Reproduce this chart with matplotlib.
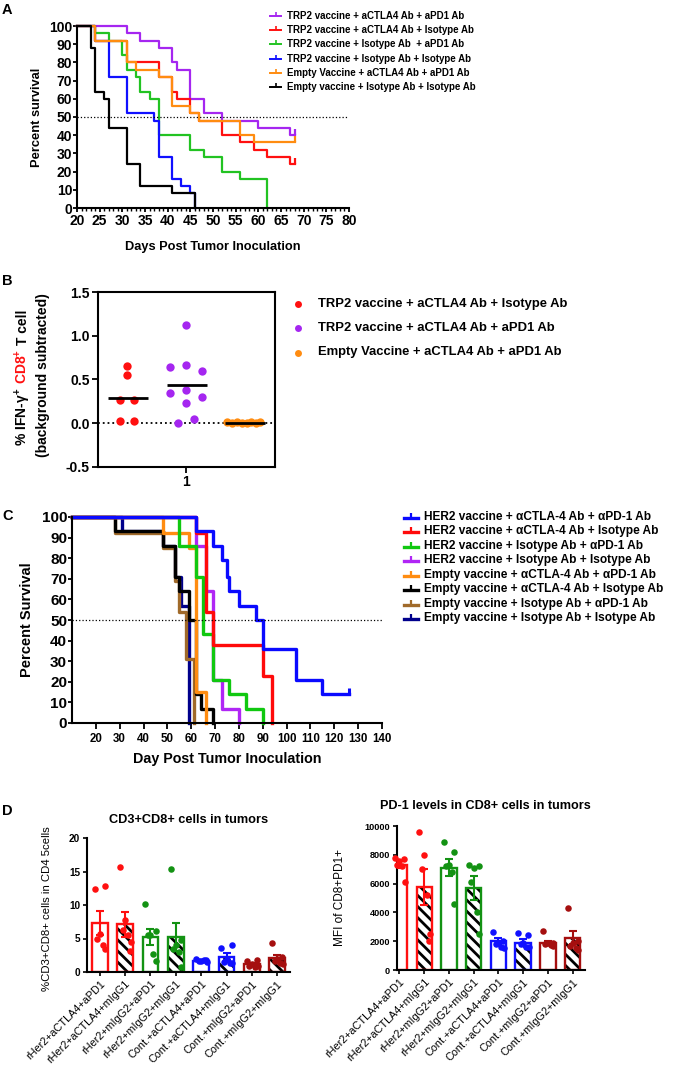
import numpy as np
import matplotlib
matplotlib.use('Agg')
import matplotlib.pyplot as plt
from matplotlib.lines import Line2D

plt.rcParams['font.family'] = ['Liberation Sans', 'DejaVu Sans']
plt.rcParams['font.weight'] = 'bold'
plt.rcParams['axes.labelweight'] = 'bold'
plt.rcParams['axes.titleweight'] = 'bold'
plt.rcParams['mathtext.default'] = 'regular'
plt.rcParams['hatch.linewidth'] = 2.0
plt.rcParams['axes.linewidth'] = 1.5

W, H = 685, 1078
fig = plt.figure(figsize=(W / 100, H / 100), dpi=100)


def axes_px(l, t, r, b):
    return fig.add_axes([l / W, 1 - b / H, (r - l) / W, (b - t) / H])


def fx(x):
    return x / W


def fy(y):
    return 1 - y / H


# ---------------- panel A data ----------------
a_labels = ['TRP2 vaccine + aCTLA4 Ab + aPD1 Ab',
            'TRP2 vaccine + aCTLA4 Ab + Isotype Ab',
            'TRP2 vaccine + Isotype Ab  + aPD1 Ab',
            'TRP2 vaccine + Isotype Ab + Isotype Ab',
            'Empty Vaccine + aCTLA4 Ab + aPD1 Ab',
            'Empty vaccine + Isotype Ab + Isotype Ab']
a_colors = ['#A526F0', '#FF1010', '#22C322', '#1010FF', '#FF8C10', '#000000']
a_days = [[20, 31, 34, 38, 41, 42, 45, 48, 52, 60, 67, 68],
          [20, 24, 31, 38, 41, 42, 45, 47, 52, 56, 59, 62, 67, 68],
          [20, 24, 27, 30, 31, 33, 34, 36, 38, 45, 48, 52, 56, 62],
          [20, 24, 27, 31, 37, 38, 41, 43, 45, 46],
          [20, 24, 31, 33, 38, 41, 45, 47, 56, 59, 68],
          [20, 23, 24, 26, 27, 31, 34, 41, 46]]
a_surv = [[100, 96, 92, 88, 80, 76, 60, 52, 48, 44, 40, 40],
          [100, 92, 80, 72, 64, 60, 52, 48, 40, 36, 32, 28, 24, 24],
          [100, 96, 92, 84, 76, 72, 64, 60, 40, 32, 28, 20, 16, 0],
          [100, 92, 72, 52, 48, 28, 16, 12, 8, 0],
          [100, 92, 80, 76, 72, 56, 52, 48, 40, 36, 36],
          [100, 88, 64, 60, 44, 24, 12, 8, 0]]
a_censored = [True, True, False, False, True, False]

# ---------------- panel B data ----------------
b_labels = ['TRP2 vaccine + aCTLA4 Ab + Isotype Ab',
            'TRP2 vaccine + aCTLA4 Ab + aPD1 Ab',
            'Empty Vaccine + aCTLA4 Ab + aPD1 Ab']
b_colors = ['#FF1010', '#A526F0', '#FF8C10']
b_centers = [0.166, 0.498, 0.826]
b_red = [0.65, 0.55, 0.26, 0.26, 0.02, 0.02]
b_red_dx = [0.0, 0.0, -0.04, 0.04, -0.04, 0.04]
b_purple = [1.12, 0.64, 0.67, 0.60, 0.35, 0.38, 0.30, 0.23, 0.05, 0.00]
b_purple_dx = [0.0, -0.09, 0.0, 0.09, -0.09, 0.0, 0.09, 0.0, 0.045, -0.045]
b_orange = [0.01, 0.0, 0.01, 0.0, 0.0, 0.01, 0.0, 0.01]
b_orange_dx = [-0.095, -0.068, -0.041, -0.014, 0.014, 0.041, 0.068, 0.09]

# ---------------- panel C data ----------------
c_labels = ['HER2 vaccine + \u03b1CTLA-4 Ab + \u03b1PD-1 Ab',
            'HER2 vaccine + \u03b1CTLA-4 Ab + Isotype Ab',
            'HER2 vaccine + Isotype Ab + \u03b1PD-1 Ab',
            'HER2 vaccine + Isotype Ab + Isotype Ab',
            'Empty vaccine + \u03b1CTLA-4 Ab + \u03b1PD-1 Ab',
            'Empty vaccine + \u03b1CTLA-4 Ab + Isotype Ab',
            'Empty vaccine + Isotype Ab + \u03b1PD-1 Ab',
            'Empty vaccine + Isotype Ab + Isotype Ab']
c_colors = ['#0A0AFF', '#FF0A0A', '#10C810', '#B026F5', '#FF8C10', '#000000', '#A06A2A', '#00008C']
c_days = [[10, 62, 69, 73, 75, 76, 80, 87, 90, 104, 115, 126],
          [10, 62, 66, 69, 90, 94],
          [10, 55, 62, 65, 69, 76, 83, 90],
          [10, 62, 66, 69, 73, 80],
          [10, 48, 59, 62, 66],
          [10, 28, 48, 53, 55, 59, 62, 64, 69],
          [10, 28, 48, 53, 55, 58, 61],
          [10, 31, 48, 53, 55.5, 59]]
c_surv = [[100, 93, 86, 79, 71, 64, 57, 50, 36, 21, 14, 14],
          [100, 92, 54, 38, 23, 0],
          [100, 86, 71, 43, 21, 14, 7, 0],
          [100, 86, 64, 21, 7, 0],
          [100, 92, 85, 15, 0],
          [100, 93, 86, 71, 64, 50, 14, 7, 0],
          [100, 92, 85, 69, 54, 31, 0],
          [100, 93, 86, 71, 57, 0]]
c_draw_order = [7, 6, 5, 4, 3, 2, 1, 0]

# ---------------- panel D data ----------------
d_groups = ['rHer2+aCTLA4+aPD1', 'rHer2+aCTLA4+mIgG1', 'rHer2+mIgG2+aPD1', 'rHer2+mIgG2+mIgG1',
            'Cont.+aCTLA4+aPD1', 'Cont.+aCTLA4+mIgG1', 'Cont.+mIgG2+aPD1', 'Cont.+mIgG2+mIgG1']
d_colors = ['#FF1010', '#FF1010', '#139213', '#139213', '#1010FF', '#1010FF', '#A50F0F', '#A50F0F']
d_hatched = [False, True, False, True, False, True, False, True]
d_dx = [-0.2, 0.2, 0.0, -0.1, 0.12, 0.22]

cd8_mean = [7.3, 7.1, 5.2, 5.2, 1.7, 2.3, 1.2, 2.1]
cd8_sem = [1.8, 1.9, 1.2, 2.1, 0.15, 0.5, 0.2, 0.5]
cd8_points = [[12.4, 12.9, 5.7, 5.0, 4.0, 3.4],
              [15.6, 3.2, 7.8, 6.3, 5.5, 4.5],
              [10.2, 6.1, 5.5, 5.5, 2.7, 1.7],
              [15.4, 4.8, 4.0, 3.5, 3.0, 0.8],
              [1.9, 1.8, 1.7, 1.6, 1.8, 1.5],
              [3.6, 4.1, 2.0, 1.5, 1.4, 1.3],
              [1.7, 1.8, 1.2, 0.9, 0.8, 0.9],
              [4.3, 2.2, 2.0, 1.6, 1.3, 1.2]]

pd1_mean = [7300, 5750, 7100, 5700, 2000, 1900, 1900, 2250]
pd1_sem = [250, 1250, 600, 850, 200, 250, 100, 450]
pd1_points = [[7800, 7700, 7600, 7300, 7200, 6100],
              [9600, 2000, 8000, 7000, 5200, 2500],
              [8900, 8200, 7300, 7200, 6800, 4600],
              [7300, 7200, 7100, 6100, 4000, 2500],
              [2650, 2000, 1900, 1800, 1600, 1500],
              [2550, 2400, 1900, 1800, 1600, 1600],
              [2700, 1900, 1850, 1800, 1750, 1700],
              [4300, 2000, 1900, 1700, 1500, 1400]]

# ================= Panel A =================
axA = axes_px(77, 26, 349, 208)
for d, s, c in zip(a_days, a_surv, a_colors):
    axA.step(d, s, where='post', color=c, lw=1.6, clip_on=False)
for d, s, c, cens in zip(a_days, a_surv, a_colors, a_censored):
    if cens:
        axA.plot(d[-1], s[-1], marker=2, color=c, ms=4, mew=1.6, clip_on=False)
axA.axhline(50, color='black', ls=':', lw=0.9)
axA.set_xlim(20, 80)
axA.set_ylim(0, 100)
axA.set_xticks(range(20, 81, 5))
axA.set_xticks(range(20, 81, 1), minor=True)
axA.set_yticks(range(0, 101, 10))
axA.spines[['top', 'right']].set_visible(False)
axA.tick_params(labelsize=10, width=1.3, length=3, pad=1)
axA.tick_params(axis='y', pad=0.5)
axA.tick_params(which='minor', length=2.2, width=1.0)
axA.set_ylabel('Percent survival', fontsize=9.3)
axA.yaxis.set_label_coords(-0.125, 0.5)
axA.set_xlabel('Days Post Tumor Inoculation', fontsize=9.2)
axA.xaxis.set_label_coords(0.5, -0.18)

for i, (lab, c) in enumerate(zip(a_labels, a_colors)):
    y = 15.7 + i * 14.3
    fig.add_artist(Line2D([fx(270), fx(281)], [fy(y), fy(y)], color=c, lw=1.4))
    fig.add_artist(Line2D([fx(275.5)], [fy(y)], marker=2, ms=3, mew=1.2, color=c))
    fig.text(fx(287), fy(y), lab, fontsize=7.0, va='center', ha='left')

# ================= Panel B =================
axB = axes_px(98, 292, 275, 467)
b_series = [(b_red, b_red_dx), (b_purple, b_purple_dx), (b_orange, b_orange_dx)]
for (vals, dx), cen, c in zip(b_series, b_centers, b_colors):
    xs = cen + np.array(dx)
    axB.scatter(xs, vals, s=36, color=c, zorder=3, linewidths=0)
    axB.hlines(np.mean(vals), cen - 0.108, cen + 0.115, color='black', lw=2, zorder=4)
axB.axhline(0, color='black', ls=':', lw=1.3, zorder=2)
axB.set_xlim(0, 1)
axB.set_ylim(-0.5, 1.5)
axB.set_yticks([-0.5, 0.0, 0.5, 1.0, 1.5])
axB.set_yticklabels(['-0.5', '0.0', '0.5', '1.0', '1.5'])
axB.set_xticks([0.5])
axB.set_xticklabels(['1'])
axB.tick_params(labelsize=10, width=1.3, length=4, pad=2)

for i, (lab, c) in enumerate(zip(b_labels, b_colors)):
    y = 303.5 + i * 24.5
    fig.add_artist(Line2D([fx(298)], [fy(y)], marker='o', ms=5, color=c, mew=0))
    fig.text(fx(318), fy(y), lab, fontsize=9.4, va='center', ha='left')

renderer = fig.canvas.get_renderer()


def stacked_vertical(x_base, y_center, pieces, size):
    texts = []
    for s, col in pieces:
        t = fig.text(fx(x_base), fy(0), s, rotation=90, rotation_mode='anchor',
                     ha='left', va='baseline', color=col, fontsize=size)
        texts.append(t)
    lens = [t.get_window_extent(renderer).height for t in texts]
    gap = 3.5
    total = sum(lens) + gap * (len(lens) - 1)
    y = y_center + total / 2
    for t, L in zip(texts, lens):
        t.set_position((fx(x_base), fy(y)))
        y -= L + gap


stacked_vertical(27, 378, [('% IFN-\u03b3$^{+}$', 'black'), ('CD8$^{+}$', '#FF1010'),
                           ('T cell', 'black')], 10)
stacked_vertical(47, 375, [('(background subtracted)', 'black')], 10)

# ================= Panel C =================
axC = axes_px(72, 517, 382, 723)
for i in c_draw_order:
    axC.step(c_days[i], c_surv[i], where='post', color=c_colors[i], lw=2.4, clip_on=False)
axC.plot(c_days[0][-1], c_surv[0][-1], marker=2, color=c_colors[0], ms=4, mew=2.2, clip_on=False)
axC.axhline(50, color='black', ls=':', lw=0.9)
axC.set_xlim(10, 140)
axC.set_ylim(0, 100)
axC.set_xticks(range(20, 141, 10))
axC.set_yticks(range(0, 101, 10))
axC.spines[['top', 'right']].set_visible(False)
axC.tick_params(axis='y', labelsize=11, width=1.3, length=3, pad=0.5)
axC.tick_params(axis='x', labelsize=8.3, width=1.3, length=4, pad=3)
axC.set_ylabel('Percent Survival', fontsize=10.5)
axC.yaxis.set_label_coords(-0.123, 0.5)
axC.set_xlabel('Day Post Tumor Inoculation', fontsize=10.3)
axC.xaxis.set_label_coords(0.5, -0.14)

for i, (lab, c) in enumerate(zip(c_labels, c_colors)):
    y = 517 + i * 14.43
    fig.add_artist(Line2D([fx(404), fx(418)], [fy(y + 1), fy(y + 1)], color=c, lw=2.4))
    fig.add_artist(Line2D([fx(411)], [fy(y)], marker=2, ms=3, mew=1.6, color=c))
    fig.text(fx(424), fy(y), lab, fontsize=8.6, va='center', ha='left')

# ================= Panel D =================


def bar_panel(ax, means, sems, points, ymax, yticks, tick_size):
    xs = np.arange(len(means))
    for i in xs:
        c = d_colors[i]
        if d_hatched[i]:
            ax.bar(i, means[i], width=0.62, color='white', edgecolor='black',
                   hatch='\\\\\\', linewidth=0, zorder=1)
        ax.bar(i, means[i], width=0.62, facecolor='none', edgecolor=c, linewidth=1.7, zorder=2)
        px = i + np.array(d_dx[:len(points[i])])
        ax.scatter(px, points[i], s=22, color=c, zorder=3, linewidths=0, clip_on=False)
        ax.errorbar(i, means[i], yerr=sems[i], fmt='none', ecolor=c, capsize=3.2,
                    elinewidth=1.5, capthick=1.5, zorder=4)
    ax.set_ylim(0, ymax)
    ax.set_yticks(yticks)
    ax.set_xticks(xs)
    ax.set_xticklabels(d_groups, rotation=45, ha='right', rotation_mode='anchor',
                       fontsize=7.8, fontweight='normal')
    ax.spines[['top', 'right']].set_visible(False)
    ax.tick_params(axis='y', labelsize=tick_size, width=1.2, length=3, pad=2)
    ax.tick_params(axis='x', width=1.2, length=3, pad=2)


axD1 = axes_px(87, 838, 290, 972)
bar_panel(axD1, cd8_mean, cd8_sem, cd8_points, 20, [0, 5, 10, 15, 20], 7.2)
axD1.set_xlim(-0.5, 7.5)
axD1.set_title('CD3+CD8+ cells in tumors', fontsize=9.2, pad=11)
axD1.set_ylabel('%CD3+CD8+ cells in CD4 5cells', fontsize=8.2, fontweight='normal')
axD1.yaxis.set_label_coords(-0.17, 0.47)

axD2 = axes_px(397, 826, 585, 970)
bar_panel(axD2, pd1_mean, pd1_sem, pd1_points, 10000,
          [0, 2000, 4000, 6000, 8000, 10000], 6.6)
axD2.set_xlim(-0.1, 7.5)
axD2.set_title('PD-1 levels in CD8+ cells in tumors', fontsize=9.1, pad=12, x=0.468)
axD2.set_ylabel('MFI of CD8+PD1+', fontsize=8.5, fontweight='normal')
axD2.yaxis.set_label_coords(-0.27, 0.5)

# panel letters
for letter, y in [('A', 10), ('B', 281), ('C', 516), ('D', 811)]:
    fig.text(fx(2), fy(y), letter, fontsize=10.5, va='center', ha='left')

fig.savefig('out.png', dpi=100)
